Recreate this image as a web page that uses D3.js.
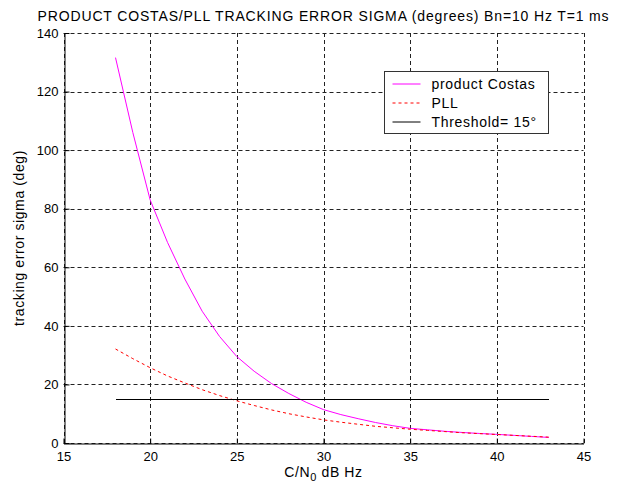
<!DOCTYPE html>
<html>
<head>
<meta charset="utf-8">
<script src="https://cdn.jsdelivr.net/npm/d3@7"></script>
<style>
  body { margin: 0; background: #fff; }
  svg { display: block; font-family: "Liberation Sans", Arial, sans-serif; }
</style>
</head>
<body>
<div class="chart"></div>
<script>
// C/N0 in dB Hz
var cn0 = [18, 19, 20, 21, 22, 23, 24, 25, 26, 27, 28, 29, 30,
           31, 32, 33, 34, 35, 36, 37, 38, 39, 40, 41, 42, 43];

// tracking error sigma (deg)
var costasSigma = [131.6, 106, 83, 68.5, 56, 45, 36.4, 29.5, 24.5, 20.3, 16.9, 13.9, 11.4,
                   9.7, 8.3, 7.0, 5.9, 5.0, 4.5, 4.0, 3.6, 3.25, 2.95, 2.6, 2.25, 1.9];
var pllSigma = [32.1, 28.8, 25.7, 22.9, 20.5, 18.2, 16.2, 14.4, 12.8, 11.3, 10.0, 8.9, 7.9,
                7.1, 6.4, 5.7, 5.2, 4.7, 4.3, 3.9, 3.5, 3.2, 2.9, 2.6, 2.3, 2.0];

var threshold = 15;
var thresholdRange = [18, 43];

var xTicks = [15, 20, 25, 30, 35, 40, 45];
var yTicks = [0, 20, 40, 60, 80, 100, 120, 140];

var legendLabels = ["product Costas", "PLL", "Threshold= 15\u00b0"];

var width = 625,
    height = 488,
    margin = {top: 33, right: 41.5, bottom: 45, left: 63.5};

var svg = d3.select("div.chart").append("svg")
    .attr("width", width)
    .attr("height", height);

svg.append("rect")
    .attr("width", width)
    .attr("height", height)
    .attr("fill", "#fff");

var x = d3.scaleLinear()
    .domain([15, 45])
    .range([margin.left, width - margin.right]);

var y = d3.scaleLinear()
    .domain([0, 140])
    .range([height - margin.bottom, margin.top]);

// dashed grid, box is off so the top and right edges are grid lines too
var grid = svg.append("g")
    .attr("stroke", "#222")
    .attr("stroke-width", 1)
    .attr("stroke-dasharray", "4,3");

grid.selectAll(".vgrid")
    .data(xTicks)
  .enter().append("line")
    .attr("class", "vgrid")
    .attr("x1", function(d) { return Math.round(x(d)) + 0.5; })
    .attr("x2", function(d) { return Math.round(x(d)) + 0.5; })
    .attr("y1", y(0))
    .attr("y2", y(140));

grid.selectAll(".hgrid")
    .data(yTicks)
  .enter().append("line")
    .attr("class", "hgrid")
    .attr("x1", x(15))
    .attr("x2", x(45))
    .attr("y1", function(d) { return Math.round(y(d)) + 0.5; })
    .attr("y2", function(d) { return Math.round(y(d)) + 0.5; });

var xAxis = svg.append("g")
    .attr("transform", "translate(0," + (Math.round(y(0)) + 0.5) + ")")
    .call(d3.axisBottom(x)
      .tickValues(xTicks)
      .tickFormat(d3.format("d"))
      .tickSizeInner(-5)
      .tickSizeOuter(0)
      .tickPadding(8));

var yAxis = svg.append("g")
    .attr("transform", "translate(" + (Math.round(x(15)) + 0.5) + ",0)")
    .call(d3.axisLeft(y)
      .tickValues(yTicks)
      .tickFormat(d3.format("d"))
      .tickSizeInner(-5)
      .tickSizeOuter(0)
      .tickPadding(6));

[xAxis, yAxis].forEach(function(a) {
  a.attr("font-family", null).attr("font-size", 13);
  a.select(".domain").attr("stroke", "#000");
  a.selectAll(".tick line").attr("stroke", "#000");
  a.selectAll(".tick text").attr("fill", "#000");
});

var line = d3.line()
    .x(function(d) { return x(d[0]); })
    .y(function(d) { return y(d[1]); });

svg.append("path")
    .datum(d3.zip(cn0, costasSigma))
    .attr("fill", "none")
    .attr("stroke", "#ff00ff")
    .attr("stroke-width", 1)
    .attr("d", line);

svg.append("path")
    .datum(d3.zip(cn0, pllSigma))
    .attr("fill", "none")
    .attr("stroke", "#ff0000")
    .attr("stroke-width", 1)
    .attr("stroke-dasharray", "3,3")
    .attr("d", line);

svg.append("path")
    .datum(thresholdRange.map(function(v) { return [v, threshold]; }))
    .attr("fill", "none")
    .attr("stroke", "#000")
    .attr("stroke-width", 1)
    .attr("shape-rendering", "crispEdges")
    .attr("d", line);

// title and axis labels (the original font runs wider, hence the letter spacing)
svg.append("text")
    .attr("x", (x(15) + x(45)) / 2)
    .attr("y", 21)
    .attr("text-anchor", "middle")
    .attr("font-size", 14)
    .attr("letter-spacing", 0.85)
    .attr("fill", "#000")
    .text("PRODUCT COSTAS/PLL TRACKING ERROR SIGMA (degrees) Bn=10 Hz T=1 ms");

var xlabel = svg.append("text")
    .attr("x", (x(15) + x(45)) / 2)
    .attr("y", 477)
    .attr("text-anchor", "middle")
    .attr("font-size", 14)
    .attr("letter-spacing", 0.6)
    .attr("fill", "#000");
xlabel.append("tspan").text("C/N");
xlabel.append("tspan").attr("font-size", 11).attr("dy", 4).text("0");
xlabel.append("tspan").attr("dy", -4).text(" dB Hz");

svg.append("text")
    .attr("transform", "translate(24," + (y(0) + y(140)) / 2 + ") rotate(-90)")
    .attr("text-anchor", "middle")
    .attr("font-size", 14)
    .attr("letter-spacing", 0.6)
    .attr("fill", "#000")
    .text("tracking error sigma (deg)");

// legend
var legend = svg.append("g")
    .attr("transform", "translate(384.5,71.5)");

legend.append("rect")
    .attr("width", 164)
    .attr("height", 62)
    .attr("fill", "#fff")
    .attr("stroke", "#333");

var legendStyles = [
  {stroke: "#ff00ff", dash: null},
  {stroke: "#ff0000", dash: "3,3"},
  {stroke: "#000", dash: null}
];

var rows = legend.selectAll(".row")
    .data(legendLabels)
  .enter().append("g")
    .attr("class", "row")
    .attr("transform", function(d, i) { return "translate(0," + (12.5 + i * 19) + ")"; });

rows.append("line")
    .attr("x1", 8)
    .attr("x2", 36)
    .attr("stroke", function(d, i) { return legendStyles[i].stroke; })
    .attr("stroke-dasharray", function(d, i) { return legendStyles[i].dash; });

rows.append("text")
    .attr("x", 47)
    .attr("dy", "0.35em")
    .attr("font-size", 14)
    .attr("letter-spacing", 0.7)
    .attr("fill", "#000")
    .text(function(d) { return d; });
</script>
</body>
</html>
